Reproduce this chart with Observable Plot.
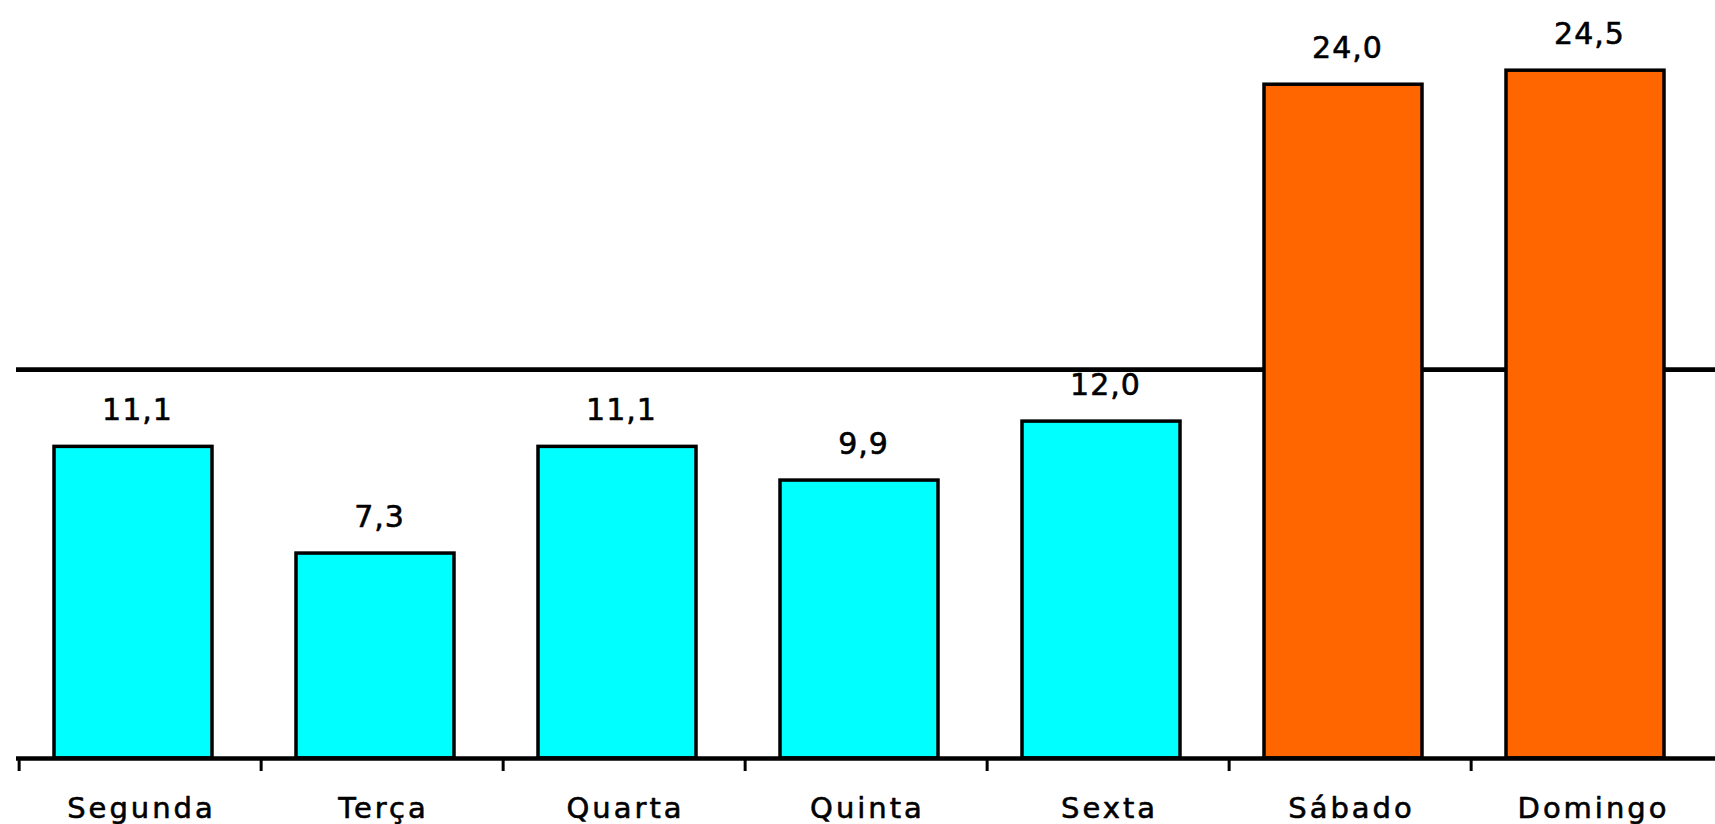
<!DOCTYPE html>
<html>
<head>
<meta charset="utf-8">
<script src="https://cdn.jsdelivr.net/npm/d3@7"></script>
<script src="https://cdn.jsdelivr.net/npm/@observablehq/plot@0.6"></script>
<style>
  html, body { margin: 0; padding: 0; background: #fff; overflow: hidden; }
  #chart svg { display: block; }
</style>
</head>
<body>
<div id="chart"></div>
<script>
// Data
const categories = ["Segunda", "Terça", "Quarta", "Quinta", "Sexta", "Sábado", "Domingo"];
const values = [11.1, 7.3, 11.1, 9.9, 12.0, 24.0, 24.5];
const barColors = ["#00FFFF", "#00FFFF", "#00FFFF", "#00FFFF", "#00FFFF", "#FF6600", "#FF6600"];
const valueLabels = ["11,1", "7,3", "11,1", "9,9", "12,0", "24,0", "24,5"];
const referenceLine = [13.85];

const rows = categories.map((c, i) => ({category: c, value: values[i], color: barColors[i], label: valueLabels[i]}));

const W = 1715, H = 824;
const mLeft = 16, mRight = 0, mTop = 0, mBottom = 66;
const bandW = (W - mLeft - mRight) / categories.length;
const frameH = H - mTop - mBottom;

const font = "'DejaVu Sans', sans-serif";

const chart = Plot.plot({
  width: W,
  height: H,
  marginLeft: mLeft,
  marginRight: mRight,
  marginTop: mTop,
  marginBottom: mBottom,
  style: {fontFamily: font, background: "#fff", overflow: "visible"},
  x: {domain: categories, paddingInner: 0, paddingOuter: 0, axis: null},
  y: {domain: [0, 27], axis: null},
  color: {type: "identity"},
  marks: [
    Plot.ruleY(referenceLine, {stroke: "#000", strokeWidth: 4.7}),
    Plot.barY(rows, {
      x: "category", y: "value", fill: "color",
      stroke: "#000", strokeWidth: 3.5,
      insetLeft: 35, insetRight: 49
    }),
    Plot.ruleY([0], {stroke: "#000", strokeWidth: 4.5}),
    Plot.ruleX(categories, {
      x: d => d, dx: -bandW / 2,
      stroke: "#000", strokeWidth: 3,
      insetTop: frameH, insetBottom: -13
    }),
    Plot.text(rows, {
      x: "category", y: "value", text: "label",
      dx: -3, dy: -27, lineAnchor: "bottom",
      fontSize: 30, fill: "#000", stroke: "#000", strokeWidth: 0.6,
      fontFamily: font
    }),
    Plot.text(rows, {
      x: "category", y: () => 0, text: "category",
      dx: 1, dy: 59, lineAnchor: "bottom",
      fontSize: 29, fill: "#000", stroke: "#000", strokeWidth: 0.6,
      fontFamily: font
    })
  ]
});

// widen the letter spacing of the pixel-style labels
d3.select(chart).selectAll("text")
  .filter(function () { return categories.includes(this.textContent); })
  .style("letter-spacing", "3px");
d3.select(chart).selectAll("text")
  .filter(function () { return valueLabels.includes(this.textContent); })
  .style("letter-spacing", "1px");

document.getElementById("chart").appendChild(chart);
</script>
</body>
</html>
